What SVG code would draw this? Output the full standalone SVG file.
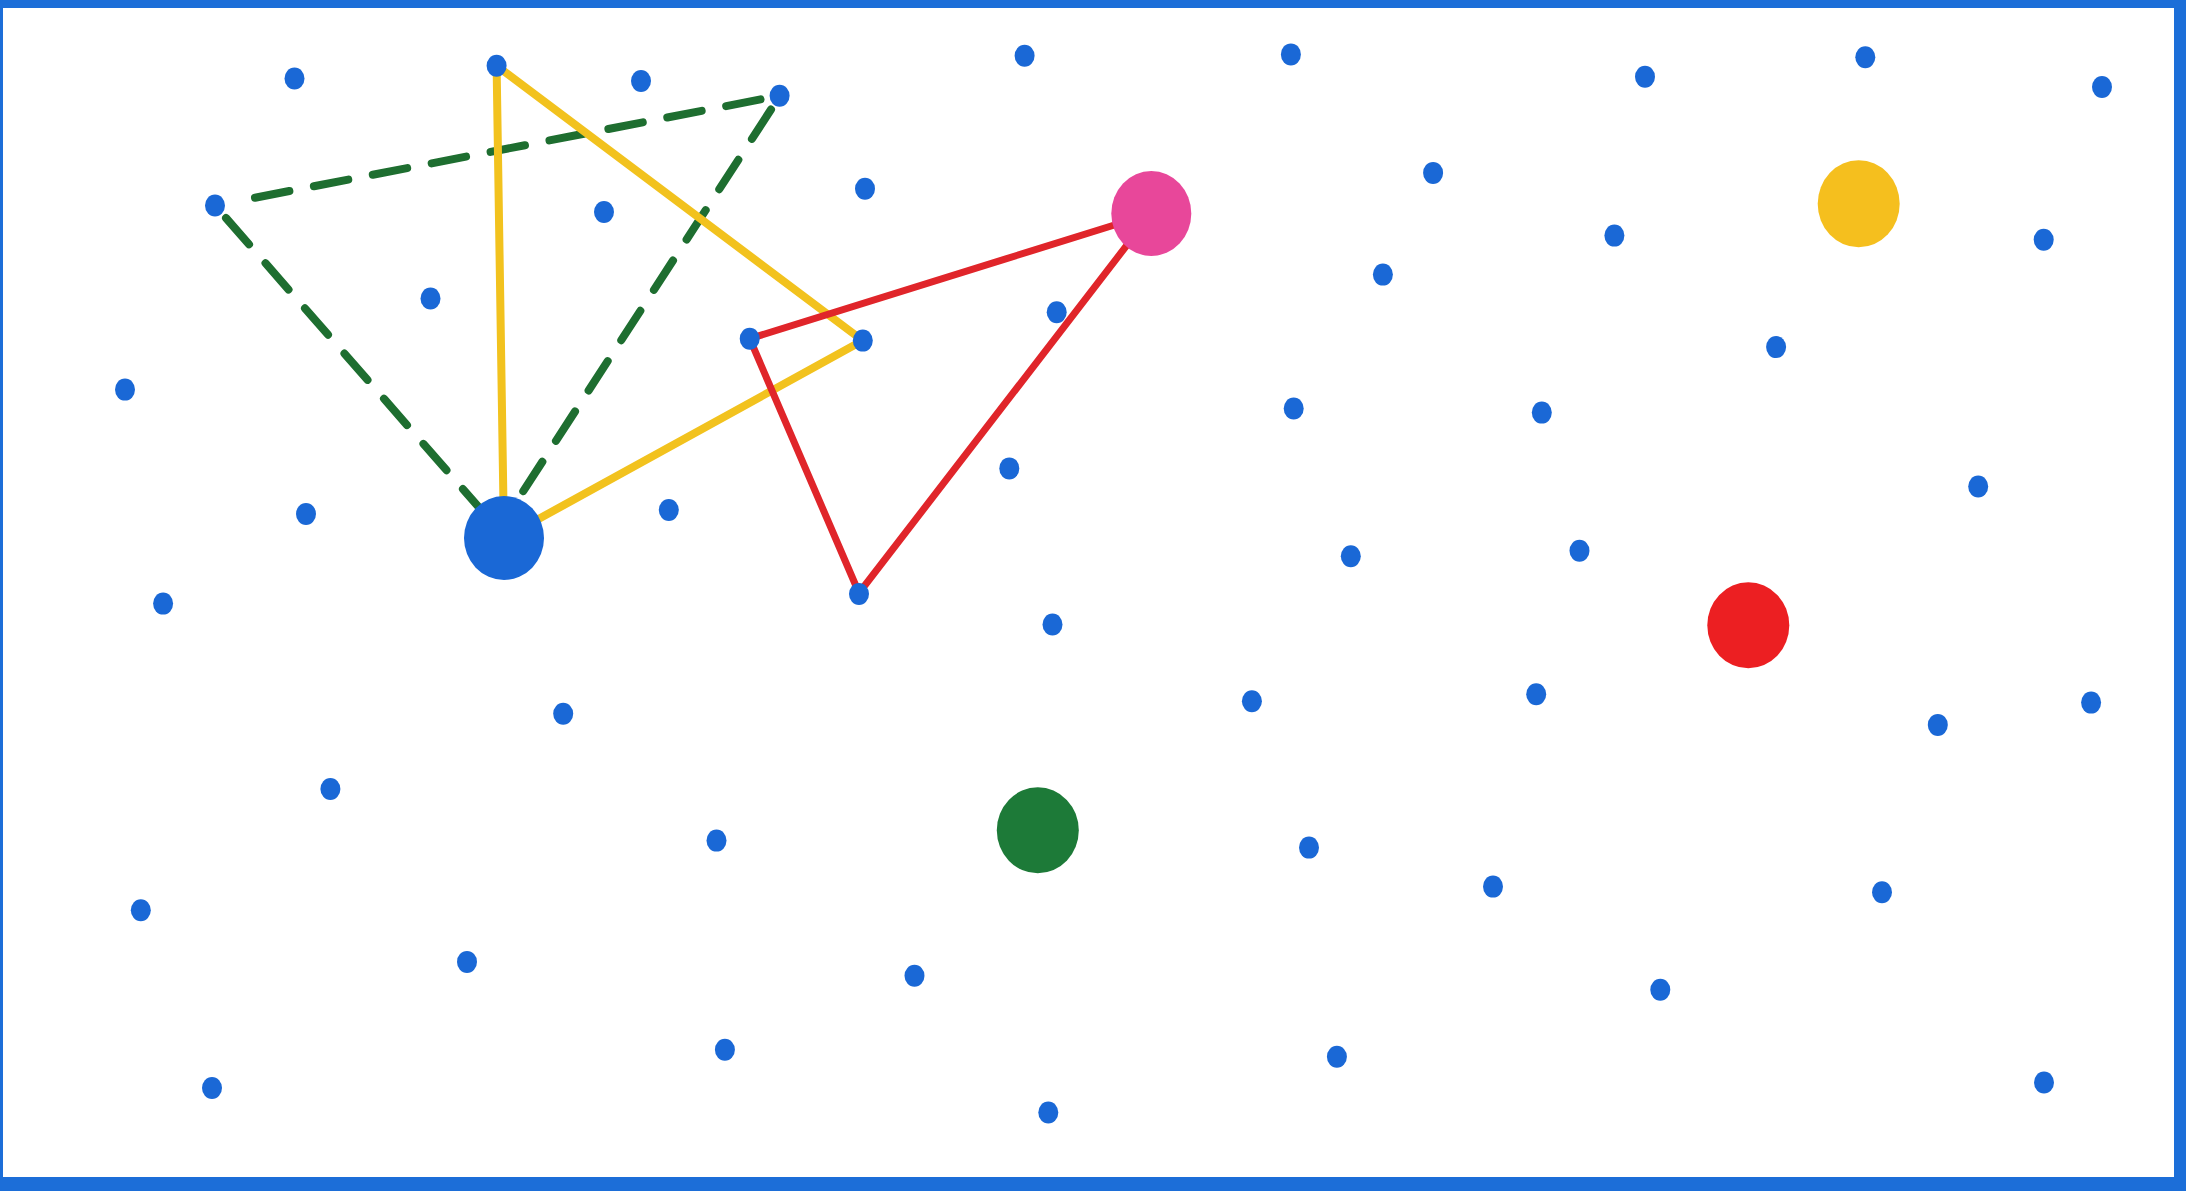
<svg xmlns="http://www.w3.org/2000/svg" width="2186" height="1191" viewBox="0 0 2186 1191">
<style>
.dot{fill:#1a68d6}
.yl{stroke:#f2c21e;stroke-width:8;fill:none;stroke-linecap:round}
.gd{stroke:#1e6e30;stroke-width:8;fill:none;stroke-dasharray:35 25;stroke-linecap:round}
.rd{stroke:#e0252a;stroke-width:7;fill:none;stroke-linecap:round}
</style>
<rect x="0" y="0" width="2186" height="1191" fill="#ffffff"/>
<path d="M0 0H2186V1191H0Z M3 8V1177H2174V8Z" fill="#1c6ed8" fill-rule="evenodd"/>
<g id="connectors">
<line class="gd" x1="255" y1="197.7" x2="779.6" y2="95.7"/>
<line class="gd" x1="226" y1="218" x2="490" y2="520"/>
<line class="gd" x1="771" y1="109.5" x2="519.5" y2="497"/>
<line class="yl" x1="496.6" y1="65.8" x2="504" y2="538"/>
<line class="yl" x1="496.6" y1="65.8" x2="862.8" y2="340.6"/>
<line class="yl" x1="862.8" y1="340.6" x2="504" y2="538"/>
<line class="rd" x1="1151.3" y1="213.5" x2="749.7" y2="338.7"/>
<line class="rd" x1="749.7" y1="338.7" x2="859" y2="593"/>
<line class="rd" x1="859" y1="593" x2="1151.3" y2="213.5"/>
</g>
<g id="dots">
<g id="d1"><ellipse class="dot" cx="294.5" cy="78.5" rx="10" ry="11"/></g>
<g id="d2"><ellipse class="dot" cx="496.6" cy="65.8" rx="10" ry="11"/></g>
<g id="d3"><ellipse class="dot" cx="641" cy="81" rx="10" ry="11"/></g>
<g id="d4"><ellipse class="dot" cx="779.6" cy="95.7" rx="10" ry="11"/></g>
<g id="d5"><ellipse class="dot" cx="1024.6" cy="55.8" rx="10" ry="11"/></g>
<g id="d6"><ellipse class="dot" cx="1290.9" cy="54.4" rx="10" ry="11"/></g>
<g id="d7"><ellipse class="dot" cx="1645" cy="76.7" rx="10" ry="11"/></g>
<g id="d8"><ellipse class="dot" cx="1865.3" cy="57.2" rx="10" ry="11"/></g>
<g id="d9"><ellipse class="dot" cx="2102" cy="87" rx="10" ry="11"/></g>
<g id="d10"><ellipse class="dot" cx="215" cy="205.5" rx="10" ry="11"/></g>
<g id="d11"><ellipse class="dot" cx="604" cy="212" rx="10" ry="11"/></g>
<g id="d12"><ellipse class="dot" cx="865" cy="188.7" rx="10" ry="11"/></g>
<g id="d13"><ellipse class="dot" cx="1433.1" cy="172.9" rx="10" ry="11"/></g>
<g id="d14"><ellipse class="dot" cx="1614.4" cy="235.6" rx="10" ry="11"/></g>
<g id="d15"><ellipse class="dot" cx="2043.7" cy="239.8" rx="10" ry="11"/></g>
<g id="d16"><ellipse class="dot" cx="430.5" cy="298.5" rx="10" ry="11"/></g>
<g id="d17"><ellipse class="dot" cx="1056.7" cy="312.3" rx="10" ry="11"/></g>
<g id="d18"><ellipse class="dot" cx="1382.9" cy="274.6" rx="10" ry="11"/></g>
<g id="d19"><ellipse class="dot" cx="749.7" cy="338.7" rx="10" ry="11"/></g>
<g id="d20"><ellipse class="dot" cx="862.8" cy="340.6" rx="10" ry="11"/></g>
<g id="d21"><ellipse class="dot" cx="1776.1" cy="347.1" rx="10" ry="11"/></g>
<g id="d22"><ellipse class="dot" cx="125" cy="389.6" rx="10" ry="11"/></g>
<g id="d23"><ellipse class="dot" cx="1293.7" cy="408.5" rx="10" ry="11"/></g>
<g id="d24"><ellipse class="dot" cx="1541.8" cy="412.6" rx="10" ry="11"/></g>
<g id="d25"><ellipse class="dot" cx="1009.3" cy="468.4" rx="10" ry="11"/></g>
<g id="d26"><ellipse class="dot" cx="306" cy="514" rx="10" ry="11"/></g>
<g id="d27"><ellipse class="dot" cx="668.8" cy="510" rx="10" ry="11"/></g>
<g id="d28"><ellipse class="dot" cx="1978.2" cy="486.5" rx="10" ry="11"/></g>
<g id="d29"><ellipse class="dot" cx="1350.8" cy="556.2" rx="10" ry="11"/></g>
<g id="d30"><ellipse class="dot" cx="1579.5" cy="550.7" rx="10" ry="11"/></g>
<g id="d31"><ellipse class="dot" cx="163.1" cy="603.6" rx="10" ry="11"/></g>
<g id="d32"><ellipse class="dot" cx="859" cy="594" rx="10" ry="11"/></g>
<g id="d33"><ellipse class="dot" cx="1052.5" cy="624.5" rx="10" ry="11"/></g>
<g id="d34"><ellipse class="dot" cx="563.2" cy="713.8" rx="10" ry="11"/></g>
<g id="d35"><ellipse class="dot" cx="1251.9" cy="701.2" rx="10" ry="11"/></g>
<g id="d36"><ellipse class="dot" cx="1536.2" cy="694.2" rx="10" ry="11"/></g>
<g id="d37"><ellipse class="dot" cx="1937.8" cy="724.9" rx="10" ry="11"/></g>
<g id="d38"><ellipse class="dot" cx="2091.1" cy="702.6" rx="10" ry="11"/></g>
<g id="d39"><ellipse class="dot" cx="330.4" cy="789" rx="10" ry="11"/></g>
<g id="d40"><ellipse class="dot" cx="716.5" cy="840.6" rx="10" ry="11"/></g>
<g id="d41"><ellipse class="dot" cx="1309" cy="847.6" rx="10" ry="11"/></g>
<g id="d42"><ellipse class="dot" cx="1493" cy="886.6" rx="10" ry="11"/></g>
<g id="d43"><ellipse class="dot" cx="1882" cy="892.2" rx="10" ry="11"/></g>
<g id="d44"><ellipse class="dot" cx="140.8" cy="910.3" rx="10" ry="11"/></g>
<g id="d45"><ellipse class="dot" cx="467" cy="961.9" rx="10" ry="11"/></g>
<g id="d46"><ellipse class="dot" cx="914.5" cy="975.8" rx="10" ry="11"/></g>
<g id="d47"><ellipse class="dot" cx="1660.3" cy="989.8" rx="10" ry="11"/></g>
<g id="d48"><ellipse class="dot" cx="724.9" cy="1049.7" rx="10" ry="11"/></g>
<g id="d49"><ellipse class="dot" cx="1336.9" cy="1056.7" rx="10" ry="11"/></g>
<g id="d50"><ellipse class="dot" cx="212" cy="1088" rx="10" ry="11"/></g>
<g id="d51"><ellipse class="dot" cx="1048.3" cy="1112.5" rx="10" ry="11"/></g>
<g id="d52"><ellipse class="dot" cx="2044" cy="1082.5" rx="10" ry="11"/></g>
</g>
<g id="blue-circle"><ellipse cx="504" cy="538" rx="40" ry="42" fill="#1a68d6"/></g>
<g id="pink-circle"><ellipse cx="1151.3" cy="213.5" rx="40" ry="42.5" fill="#e8479a"/></g>
<g id="yellow-circle"><ellipse cx="1858.7" cy="203.8" rx="41" ry="43.5" fill="#f5bf1e"/></g>
<g id="red-circle"><ellipse cx="1748.3" cy="625.3" rx="41" ry="43" fill="#ec1f22"/></g>
<g id="green-circle"><ellipse cx="1037.8" cy="830.3" rx="41" ry="43" fill="#1d7a38"/></g>
</svg>
